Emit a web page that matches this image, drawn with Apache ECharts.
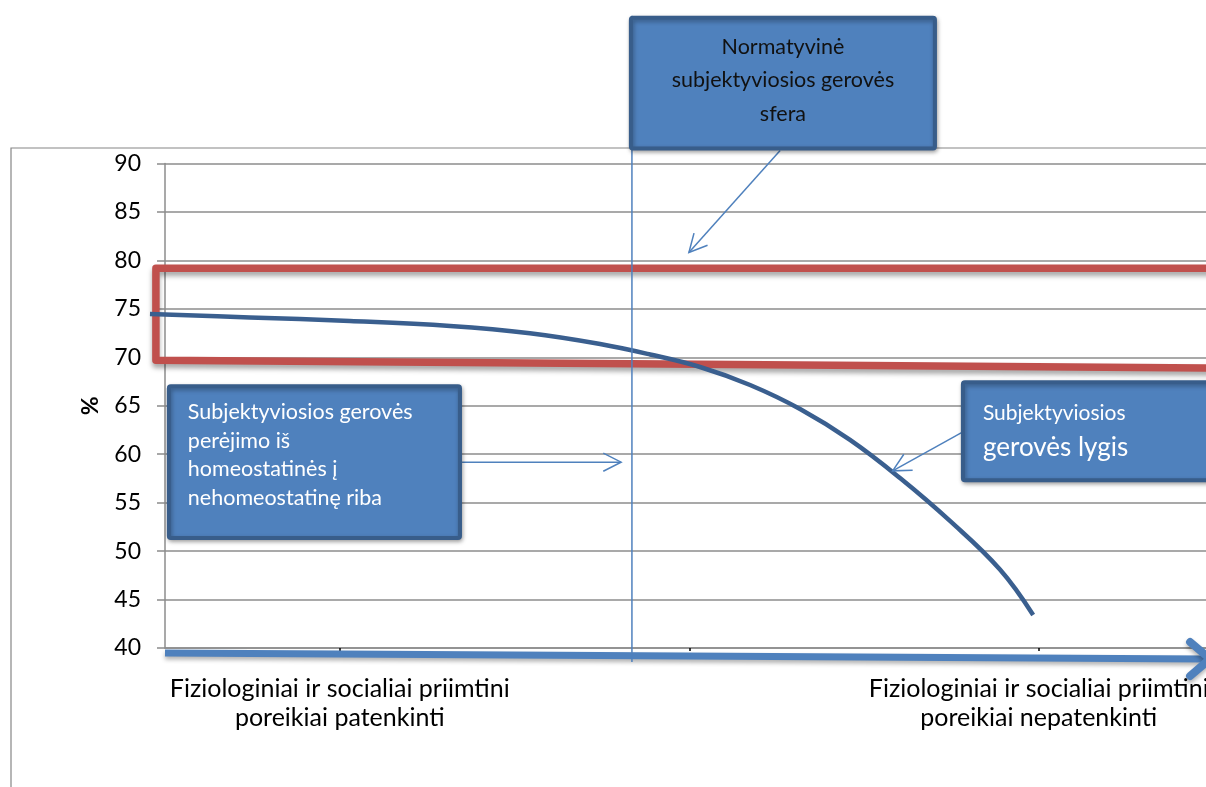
<!DOCTYPE html>
<html>
<head>
<meta charset="utf-8">
<script src="https://cdn.jsdelivr.net/npm/echarts@6/dist/echarts.min.js"></script>
<style>
html,body{margin:0;padding:0;background:#fff;}
#chart{width:1206px;height:787px;}
</style>
</head>
<body>
<div id="chart"></div>
<script>
// ---- data ----
const categories = [
  'Fiziologiniai ir socialiai priimtini\nporeikiai patenkinti',
  '',
  'Fiziologiniai ir socialiai priimtini\nporeikiai nepatenkinti'
];
const yMin = 40, yMax = 90, yStep = 5;
const yName = '%';

// subjective well-being level curve (x in category units, y in %)
const curveX = [-0.543, -0.257, 0.029, 0.316, 0.544, 0.745, 0.888, 1.031, 1.174, 1.317, 1.460, 1.603, 1.746, 1.889, 1.984];
const curveY = [74.47, 74.11, 73.75, 73.23, 72.48, 71.37, 70.29, 69.0, 67.14, 64.66, 61.47, 57.54, 53.11, 48.10, 43.41];

// normative sphere band (red frame), open to the right
const bandX = [2.62, -0.526, -0.526, 2.62];
const bandY = [79.2, 79.2, 69.7, 68.85];

// threshold (vertical line)
const thresholdX = [0.836, 0.836];
const thresholdY = [105.26, 38.56];

// big horizontal axis arrow
const axisArrowX = [-0.5, 2.49];
const axisArrowY = [39.48, 38.87];
const axisHeadX = [2.433, 2.49, 2.433];
const axisHeadY = [40.62, 38.87, 37.11];

// annotation boxes: [x1, yTop, x2, yBottom]
const boxX1 = [0.833, -0.489, 1.783];
const boxY1 = [105.05, 67.01, 67.42];
const boxX2 = [1.703, 0.344, 2.56];
const boxY2 = [91.55, 51.34, 57.32];
const boxTexts = [
  'Normatyvinė\nsubjektyviosios gerovės\nsfera',
  'Subjektyviosios gerovės\nperėjimo iš\nhomeostatinės į\nnehomeostatinę riba',
  '{a|Subjektyviosios}\n{b|gerovės lygis}'
];

// annotation arrows: from -> to
const arrFromX = [1.260, 0.350, 1.783];
const arrFromY = [91.34, 59.18, 62.30];
const arrToX = [0.999, 0.805, 1.582];
const arrToY = [80.82, 59.18, 58.28];

// ---- chart ----
const FONT = 'Lato';
const chart = echarts.init(document.getElementById('chart'), null, {renderer: 'canvas'});

function zip(xs, ys) { return xs.map((x, i) => [x, ys[i]]); }

const boxData = boxX1.map((x, i) => [x, boxY1[i], boxX2[i], boxY2[i]]);
const arrowData = arrFromX.map((x, i) => [x, arrFromY[i], arrToX[i], arrToY[i]]);

// a polyline drawn through the axes' scales, not clipped to the plot area
function pathSeries(name, xs, ys, style, smooth, z) {
  return {
    name: name, type: 'custom', xAxisIndex: 1, yAxisIndex: 0, clip: false, silent: true, z: z,
    data: zip(xs, ys),
    renderItem: function (params, api) {
      if (params.dataIndex !== 0) return;
      const pts = xs.map((x, i) => api.coord([x, ys[i]]));
      return {type: 'polyline', shape: {points: pts, smooth: smooth || 0},
              style: Object.assign({fill: null}, style)};
    }
  };
}

function renderBox(params, api) {
  const i = params.dataIndex;
  const p1 = api.coord([api.value(0), api.value(1)]);
  const p2 = api.coord([api.value(2), api.value(3)]);
  const x = Math.min(p1[0], p2[0]), y = Math.min(p1[1], p2[1]);
  const w = Math.abs(p2[0] - p1[0]), h = Math.abs(p2[1] - p1[1]);
  let text;
  if (i === 0) {
    text = {type: 'text', x: x + w / 2, y: y + h / 2 - 3, style: {
      text: boxTexts[i], fill: '#111', font: '21.5px ' + FONT, align: 'center', verticalAlign: 'middle', lineHeight: 33.5
    }};
  } else if (i === 1) {
    text = {type: 'text', x: x + 19, y: y + 12, style: {
      text: boxTexts[i], fill: '#fff', font: '21.5px ' + FONT, align: 'left', verticalAlign: 'top', lineHeight: 28.5
    }};
  } else {
    text = {type: 'text', x: x + 20, y: y + 16, style: {
      text: boxTexts[i], fill: '#fff', align: 'left', verticalAlign: 'top',
      rich: {
        a: {fontFamily: FONT, fontSize: 21, lineHeight: 30, fill: '#fff'},
        b: {fontFamily: FONT, fontSize: 26, lineHeight: 38, fill: '#fff'}
      }
    }};
  }
  return {type: 'group', children: [
    {type: 'rect', shape: {x: x, y: y, width: w, height: h, r: 2},
     style: {fill: '#4F81BD', stroke: '#385D8A', lineWidth: 4,
             shadowBlur: 4, shadowColor: 'rgba(0,0,0,0.3)', shadowOffsetX: 1, shadowOffsetY: 2}},
    text
  ]};
}

function renderArrow(params, api) {
  const p1 = api.coord([api.value(0), api.value(1)]);
  const p2 = api.coord([api.value(2), api.value(3)]);
  const ang = Math.atan2(p2[1] - p1[1], p2[0] - p1[0]);
  const L = 20, a = 27 * Math.PI / 180;
  const h1 = [p2[0] - L * Math.cos(ang - a), p2[1] - L * Math.sin(ang - a)];
  const h2 = [p2[0] - L * Math.cos(ang + a), p2[1] - L * Math.sin(ang + a)];
  const st = {stroke: '#4F81BD', lineWidth: 1.5, fill: null};
  return {type: 'group', children: [
    {type: 'line', shape: {x1: p1[0], y1: p1[1], x2: p2[0], y2: p2[1]}, style: st},
    {type: 'polyline', shape: {points: [h1, p2, h2]}, style: st}
  ]};
}

const option = {
  animation: false,
  backgroundColor: '#fff',
  grid: {left: 165, top: 163.5, width: 1048.5, height: 484.5, containLabel: false, outerBoundsMode: 'none'},
  xAxis: [
    {
      type: 'category', data: categories, boundaryGap: true,
      axisLine: {show: true, lineStyle: {color: '#8c8c8c', width: 1.5}},
      axisTick: {show: true, alignWithLabel: true, length: 3, lineStyle: {color: '#000', width: 1.5}},
      axisLabel: {interval: 0, color: '#000', fontFamily: FONT, fontSize: 25, lineHeight: 29, margin: 26, align: 'center'},
      splitLine: {show: false}
    },
    {
      type: 'value', min: -0.5, max: 2.5, show: false, splitLine: {show: false}
    }
  ],
  yAxis: {
    type: 'value', min: yMin, max: yMax, interval: yStep,
    name: yName, nameLocation: 'middle', nameRotate: 90, nameGap: 63,
    nameTextStyle: {color: '#000', fontFamily: FONT, fontSize: 23, fontWeight: 'bold'},
    axisLine: {show: true, onZero: false, lineStyle: {color: '#8c8c8c', width: 1.5}},
    axisTick: {show: true, length: 8, lineStyle: {color: '#8c8c8c', width: 1.5}},
    axisLabel: {color: '#000', fontFamily: FONT, fontSize: 23, margin: 24},
    splitLine: {show: true, lineStyle: {color: '#8c8c8c', width: 1.5}}
  },
  graphic: [
    {type: 'polyline', z: -1, shape: {points: [[11, 800], [11, 148], [1220, 148]]},
     style: {stroke: '#868686', lineWidth: 1.2, fill: null}}
  ],
  series: [
    pathSeries('band', bandX, bandY, {stroke: '#C0504D', lineWidth: 7.5, lineJoin: 'round', lineCap: 'round',
      shadowBlur: 5, shadowColor: 'rgba(0,0,0,0.35)', shadowOffsetY: 4}, 0, 3),
    pathSeries('axisArrow', axisArrowX, axisArrowY, {stroke: '#4F81BD', lineWidth: 7,
      shadowBlur: 4, shadowColor: 'rgba(0,0,0,0.3)', shadowOffsetY: 3}, 0, 4),
    pathSeries('axisHead', axisHeadX, axisHeadY, {stroke: '#4F81BD', lineWidth: 8, lineCap: 'round', lineJoin: 'round',
      shadowBlur: 4, shadowColor: 'rgba(0,0,0,0.3)', shadowOffsetY: 3}, 0, 4),
    pathSeries('Subjektyviosios gerovės lygis', curveX, curveY, {stroke: '#3A5F8F', lineWidth: 4.5, lineCap: 'butt', lineJoin: 'round'}, 0.4, 5),
    pathSeries('threshold', thresholdX, thresholdY, {stroke: '#4F81BD', lineWidth: 1.5}, 0, 6),
    {
      name: 'arrows', type: 'custom', xAxisIndex: 1, data: arrowData, clip: false, silent: true, z: 7,
      renderItem: renderArrow
    },
    {
      name: 'boxes', type: 'custom', xAxisIndex: 1, data: boxData, clip: false, silent: true, z: 8,
      renderItem: renderBox
    }
  ]
};
chart.setOption(option);
</script>
</body>
</html>
